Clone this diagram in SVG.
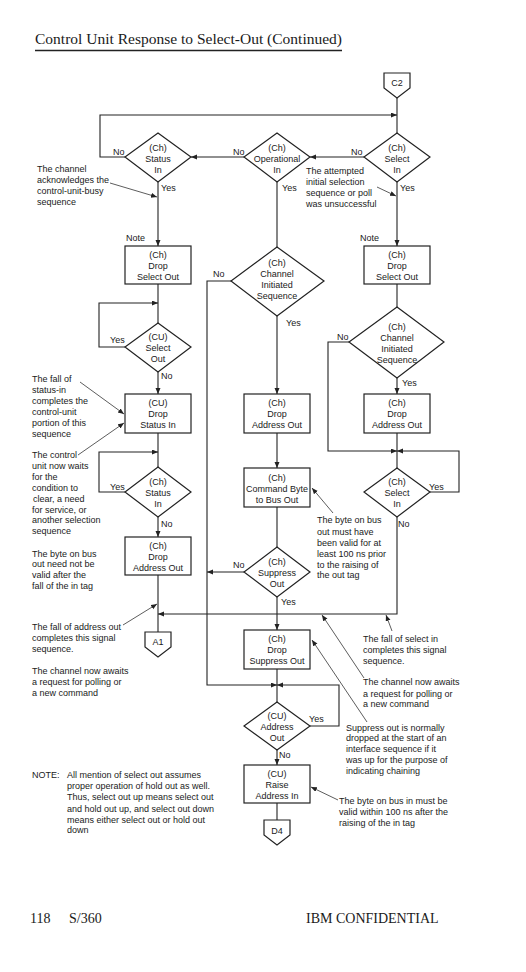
<svg xmlns="http://www.w3.org/2000/svg" width="526" height="972" viewBox="0 0 526 972">
<defs>
<marker id="arr" markerUnits="userSpaceOnUse" markerWidth="7" markerHeight="6" refX="6" refY="2.5" orient="auto">
<path d="M0,0 L6,2.5 L0,5 z" fill="#222"/>
</marker>
<style>
.n{fill:#fff;stroke:#222;stroke-width:1.2}
.c{fill:none;stroke:#222;stroke-width:1.1}
.ca{fill:none;stroke:#222;stroke-width:1.1;marker-end:url(#arr)}
.a{fill:none;stroke:#333;stroke-width:0.8;marker-end:url(#arr)}
text{font-family:"Liberation Sans",Arial,sans-serif;font-size:9px;fill:#1a1a1a}
.m{text-anchor:middle}
.serif{font-family:"Liberation Serif","Times New Roman",serif}
</style>
</defs>
<rect width="526" height="972" fill="#fff"/>

<text class="serif" x="35" y="44" style="font-size:15.5px" textLength="307" lengthAdjust="spacingAndGlyphs">Control Unit Response to Select-Out (Continued)</text>
<line x1="35" y1="50.5" x2="342" y2="50.5" stroke="#222" stroke-width="1.5"/>

<g id="connectors">
<path class="c" d="M397,98 V133"/>
<path class="ca" d="M125,157 H100 V115 H397"/>
<path class="ca" d="M364,157 H310"/>
<path class="ca" d="M244,157 H191"/>
<path class="ca" d="M158,182 V246"/>
<path class="c" d="M277,182 V247"/>
<path class="ca" d="M397,182 V246"/>
<path class="c" d="M158,284 V323"/>
<path class="ca" d="M125,347 H99 V303 H158"/>
<path class="ca" d="M158,372 V394"/>
<path class="c" d="M158,433 V467"/>
<path class="ca" d="M125,492 H99 V452 H158"/>
<path class="ca" d="M158,517 V537"/>
<path class="c" d="M158,575 V632"/>
<path class="ca" d="M231,281 H207 V685 H277"/>
<path class="ca" d="M277,316 V394"/>
<path class="ca" d="M277,433 V468"/>
<path class="c" d="M277,507 V547"/>
<path class="ca" d="M244,572 H207"/>
<path class="ca" d="M277,597 V630"/>
<path class="c" d="M277,669 V702"/>
<path class="ca" d="M310,726 H339 V685 H277"/>
<path class="ca" d="M277,750 V765"/>
<path class="c" d="M277,803 V820"/>
<path class="c" d="M397,284 V307"/>
<path class="ca" d="M349,342 H328 V451 H397"/>
<path class="ca" d="M397,378 V394"/>
<path class="c" d="M397,433 V468"/>
<path class="ca" d="M430,492 H459 V451 H397"/>
<path class="ca" d="M397,517 V614 H158"/>
</g>

<g id="connector-labels">
<text x="113" y="155">No</text>
<text x="233" y="155">No</text>
<text x="351" y="155">No</text>
<text x="161" y="191">Yes</text>
<text x="282" y="191">Yes</text>
<text x="400" y="191">Yes</text>
<text x="126" y="241">Note</text>
<text x="360" y="241">Note</text>
<text x="213" y="277">No</text>
<text x="286" y="326">Yes</text>
<text x="337" y="340">No</text>
<text x="110" y="343">Yes</text>
<text x="161" y="379">No</text>
<text x="402" y="386">Yes</text>
<text x="110" y="490">Yes</text>
<text x="429" y="490">Yes</text>
<text x="161" y="527">No</text>
<text x="398" y="527">No</text>
<text x="233" y="568">No</text>
<text x="281" y="605">Yes</text>
<text x="309" y="722">Yes</text>
<text x="279" y="758">No</text>
</g>

<g id="c2">
<path class="n" d="M384,73 H410 V88 L397,98 L384,88 Z"/>
<text class="m" x="397" y="86">C2</text>
</g>

<g id="status-in-1">
<polygon class="n" points="158,133 191,157 158,182 125,157"/>
<text class="m" x="158" y="151">(Ch)</text>
<text class="m" x="158" y="162">Status</text>
<text class="m" x="158" y="173">In</text>
</g>

<g id="operational-in">
<polygon class="n" points="277,133 310,157 277,182 244,157"/>
<text class="m" x="277" y="151">(Ch)</text>
<text class="m" x="277" y="162">Operational</text>
<text class="m" x="277" y="173">In</text>
</g>

<g id="select-in-1">
<polygon class="n" points="397,133 430,157 397,182 364,157"/>
<text class="m" x="397" y="151">(Ch)</text>
<text class="m" x="397" y="162">Select</text>
<text class="m" x="397" y="173">In</text>
</g>

<g id="drop-select-out-l">
<rect class="n" x="125" y="246" width="66" height="38"/>
<text class="m" x="158" y="258">(Ch)</text>
<text class="m" x="158" y="269">Drop</text>
<text class="m" x="158" y="280">Select Out</text>
</g>

<g id="drop-select-out-r">
<rect class="n" x="364" y="246" width="66" height="38"/>
<text class="m" x="397" y="258">(Ch)</text>
<text class="m" x="397" y="269">Drop</text>
<text class="m" x="397" y="280">Select Out</text>
</g>

<g id="channel-initiated-m">
<polygon class="n" points="277,247 324,281 277,316 231,281"/>
<text class="m" x="277" y="266">(Ch)</text>
<text class="m" x="277" y="277">Channel</text>
<text class="m" x="277" y="288">Initiated</text>
<text class="m" x="277" y="299">Sequence</text>
</g>

<g id="channel-initiated-r">
<polygon class="n" points="397,307 444,342 397,378 349,342"/>
<text class="m" x="397" y="330">(Ch)</text>
<text class="m" x="397" y="341">Channel</text>
<text class="m" x="397" y="352">Initiated</text>
<text class="m" x="397" y="363">Sequence</text>
</g>

<g id="cu-select-out">
<polygon class="n" points="158,323 191,347 158,372 125,347"/>
<text class="m" x="158" y="340">(CU)</text>
<text class="m" x="158" y="351">Select</text>
<text class="m" x="158" y="362">Out</text>
</g>

<g id="drop-status-in">
<rect class="n" x="125" y="394" width="66" height="39"/>
<text class="m" x="158" y="406">(CU)</text>
<text class="m" x="158" y="417">Drop</text>
<text class="m" x="158" y="428">Status In</text>
</g>

<g id="drop-address-out-m">
<rect class="n" x="244" y="394" width="66" height="39"/>
<text class="m" x="277" y="406">(Ch)</text>
<text class="m" x="277" y="417">Drop</text>
<text class="m" x="277" y="428">Address Out</text>
</g>

<g id="drop-address-out-r">
<rect class="n" x="364" y="394" width="66" height="39"/>
<text class="m" x="397" y="406">(Ch)</text>
<text class="m" x="397" y="417">Drop</text>
<text class="m" x="397" y="428">Address Out</text>
</g>

<g id="status-in-2">
<polygon class="n" points="158,467 191,492 158,517 125,492"/>
<text class="m" x="158" y="485">(Ch)</text>
<text class="m" x="158" y="496">Status</text>
<text class="m" x="158" y="507">In</text>
</g>

<g id="command-byte">
<rect class="n" x="244" y="468" width="66" height="39"/>
<text class="m" x="277" y="481">(Ch)</text>
<text class="m" x="277" y="492">Command Byte</text>
<text class="m" x="277" y="503">to Bus Out</text>
</g>

<g id="select-in-2">
<polygon class="n" points="397,468 430,492 397,517 364,492"/>
<text class="m" x="397" y="485">(Ch)</text>
<text class="m" x="397" y="496">Select</text>
<text class="m" x="397" y="507">In</text>
</g>

<g id="drop-address-out-l">
<rect class="n" x="125" y="537" width="66" height="38"/>
<text class="m" x="158" y="549">(Ch)</text>
<text class="m" x="158" y="560">Drop</text>
<text class="m" x="158" y="571">Address Out</text>
</g>

<g id="suppress-out">
<polygon class="n" points="277,547 310,572 277,597 244,572"/>
<text class="m" x="277" y="565">(Ch)</text>
<text class="m" x="277" y="576">Suppress</text>
<text class="m" x="277" y="587">Out</text>
</g>

<g id="a1">
<path class="n" d="M145,632 H171 V647 L158,657 L145,647 Z"/>
<text class="m" x="158" y="645">A1</text>
</g>

<g id="drop-suppress-out">
<rect class="n" x="244" y="630" width="66" height="39"/>
<text class="m" x="277" y="642">(Ch)</text>
<text class="m" x="277" y="653">Drop</text>
<text class="m" x="277" y="664">Suppress Out</text>
</g>

<g id="cu-address-out">
<polygon class="n" points="277,702 310,726 277,750 244,726"/>
<text class="m" x="277" y="719">(CU)</text>
<text class="m" x="277" y="730">Address</text>
<text class="m" x="277" y="741">Out</text>
</g>

<g id="raise-address-in">
<rect class="n" x="244" y="765" width="66" height="38"/>
<text class="m" x="277" y="777">(CU)</text>
<text class="m" x="277" y="788">Raise</text>
<text class="m" x="277" y="799">Address In</text>
</g>

<g id="d4">
<path class="n" d="M264,820 H290 V835 L277,845 L264,835 Z"/>
<text class="m" x="277" y="834">D4</text>
</g>

<g id="annotations">
<path class="a" d="M110,183 L157,197"/>
<path class="a" d="M377,187 L396,196"/>
<path class="a" d="M80,382 L124,414"/>
<path class="a" d="M78,455 L124,423"/>
<path class="a" d="M333,513 L312,488"/>
<path class="a" d="M123,625 L157,604"/>
<path class="a" d="M392,631 L386,615"/>
<path class="a" d="M364,678 L322,615"/>
<path class="a" d="M367,722 L312,640"/>
<path class="a" d="M338,800 L311,787"/>

<text x="37" y="171.5">The channel</text>
<text x="37" y="182.5">acknowledges the</text>
<text x="37" y="193.5">control-unit-busy</text>
<text x="37" y="204.5">sequence</text>

<text x="306" y="174">The attempted</text>
<text x="306" y="185">initial selection</text>
<text x="306" y="196">sequence or poll</text>
<text x="306" y="207">was unsuccessful</text>

<text x="32" y="381.5">The fall of</text>
<text x="32" y="392.5">status-in</text>
<text x="32" y="403.5">completes the</text>
<text x="32" y="414.5">control-unit</text>
<text x="32" y="425.5">portion of this</text>
<text x="32" y="436.5">sequence</text>

<text x="32" y="458">The control</text>
<text x="32" y="469">unit now waits</text>
<text x="32" y="480">for the</text>
<text x="32" y="491">condition to</text>
<text x="33" y="501.5">clear, a need</text>
<text x="32" y="512.5">for service, or</text>
<text x="32" y="523">another selection</text>
<text x="32" y="534">sequence</text>

<text x="32" y="556.5">The byte on bus</text>
<text x="32" y="567">out need not be</text>
<text x="32" y="577.5">valid after the</text>
<text x="32" y="588.5">fall of the in tag</text>

<text x="317" y="523">The byte on bus</text>
<text x="317" y="534.5">out must have</text>
<text x="317" y="545.5">been valid for at</text>
<text x="317" y="556.5">least 100 ns prior</text>
<text x="317" y="567.5">to the raising of</text>
<text x="317" y="578">the out tag</text>

<text x="32" y="630">The fall of address out</text>
<text x="32" y="641">completes this signal</text>
<text x="32" y="652">sequence.</text>

<text x="32" y="674">The channel now awaits</text>
<text x="32" y="685">a request for polling or</text>
<text x="32" y="695.5">a new command</text>

<text x="363" y="641.5">The fall of select in</text>
<text x="363" y="652.5">completes this signal</text>
<text x="363" y="663.5">sequence.</text>

<text x="363" y="685">The channel now awaits</text>
<text x="363" y="696.5">a request for polling or</text>
<text x="363" y="707">a new command</text>

<text x="346" y="730.5">Suppress out is normally</text>
<text x="346" y="741">dropped at the start of an</text>
<text x="346" y="752">interface sequence if it</text>
<text x="346" y="763">was up for the purpose of</text>
<text x="346" y="774">indicating chaining</text>

<text x="32" y="778">NOTE:</text>
<text x="67" y="778">All mention of select out assumes</text>
<text x="67" y="789">proper operation of hold out as well.</text>
<text x="67" y="800">Thus, select out up means select out</text>
<text x="67" y="811.5">and hold out up, and select out down</text>
<text x="67" y="822.5">means either select out or hold out</text>
<text x="67" y="833">down</text>

<text x="339" y="804">The byte on bus in must be</text>
<text x="339" y="815">valid within 100 ns after the</text>
<text x="339" y="826">raising of the in tag</text>
</g>

<g id="footer">
<text class="serif" x="30" y="922.5" style="font-size:14px">118</text>
<text class="serif" x="69" y="922.5" style="font-size:14px">S/360</text>
<text class="serif" x="306" y="922.5" style="font-size:14px">IBM CONFIDENTIAL</text>
</g>
</svg>
